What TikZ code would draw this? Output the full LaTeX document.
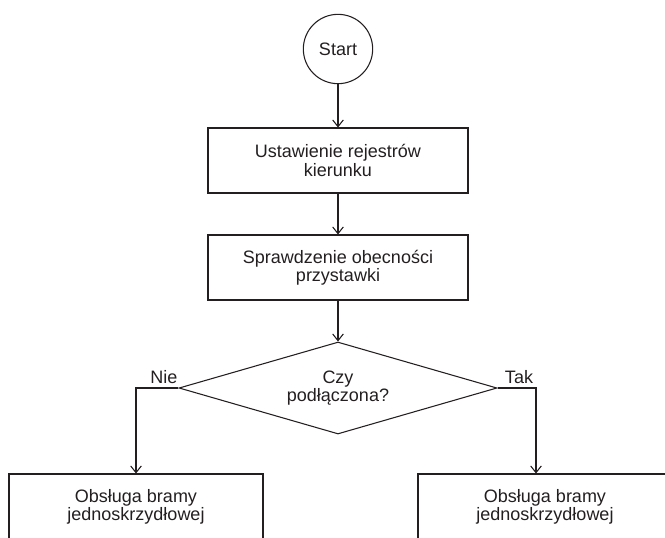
\documentclass[tikz,border=0pt]{standalone}
\usepackage{fontspec}
\setmainfont{Liberation Sans}
\usetikzlibrary{shapes.geometric,arrows.meta}
\definecolor{ink}{HTML}{231F20}

\begin{document}
\begin{tikzpicture}[x=0.75pt,y=-0.75pt,
  every node/.style={text=ink, align=center, font=\fontsize{13.5pt}{12.5pt}\selectfont},
  line/.style={draw=ink, line width=0.8pt},
  blok/.style={line, rectangle, minimum width=195pt, minimum height=48.75pt, inner sep=0pt},
  dolny/.style={blok, minimum width=190.5pt},
  pocz/.style={line, circle, minimum size=52pt, inner sep=0pt},
  pytanie/.style={line, diamond, aspect=3.46, minimum width=238.5pt, minimum height=69pt, inner sep=0pt},
  strz/.style={line, -{Straight Barb[length=5pt,width=8pt,line width=0.8pt]}}]

\useasboundingbox (0,0) rectangle (665,537);
\clip (0,0) rectangle (665,537);

% kolumna glowna
\node[pocz]    (start) at (338,49)    {Start};
\node[blok]    (kier)  at (338,160.5) {Ustawienie rejestrów\\kierunku};
\node[blok]    (spr)   at (338,267.5) {Sprawdzenie obecności\\przystawki};
\node[pytanie] (czy)   at (338,388)   {Czy\\podłączona?};

% galezie
\node[dolny] (nie) at (136,506.5) {Obsługa bramy\\jednoskrzydłowej};
\node[dolny] (tak) at (545,506.5) {Obsługa bramy\\jednoskrzydłowej};

\node (lbnie) at (164,377) {Nie};
\node (lbtak) at (519,377) {Tak};
\coordinate (kolano) at (536,388);

\draw[strz] (start) -- (kier);
\draw[strz] (kier) -- (spr);
\draw[strz] (spr) -- (czy);
\draw[strz] (czy.west) -| (nie.north);
\draw[strz] (czy.east) -- (kolano) -- (kolano |- tak.north);

\end{tikzpicture}
\end{document}
